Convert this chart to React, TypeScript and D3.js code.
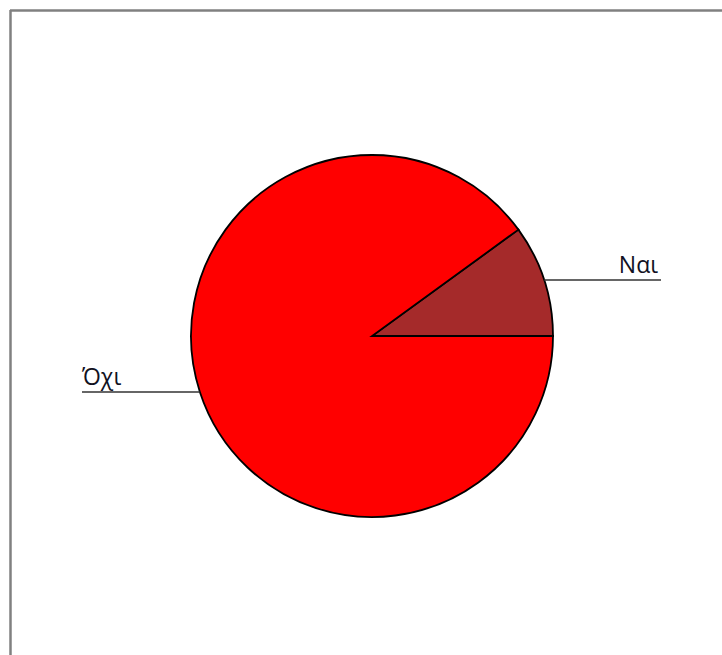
import React from "react";
import * as d3 from "d3";

const categories = ["Ναι", "Όχι"];
const values = [10, 90];
const colors = ["#a52a2a", "#ff0000"];

export default function App() {
  const W = 722, H = 655;
  const cx = 372, cy = 336, r = 181;
  const data = categories.map((c, i) => ({ c, v: values[i], col: colors[i] }));
  // start at east (90deg in d3 angle), going counter-clockwise
  const pie = d3.pie<any>().value((d) => d.v).sort(null)
    .startAngle(Math.PI / 2).endAngle(Math.PI / 2 - 2 * Math.PI);
  const arcs = pie(data);
  const arc = d3.arc<any>().innerRadius(0).outerRadius(r);
  return (
    <div style={{ position: "absolute", left: 0, top: 0 }}>
      <svg width={W} height={H} style={{ display: "block" }}>
        <rect x={0} y={0} width={W} height={H} fill="#fff" />
        <line x1={10.5} y1={10} x2={10.5} y2={H} stroke="#808080" strokeWidth={2.5} />
        <line x1={10} y1={10.5} x2={W} y2={10.5} stroke="#808080" strokeWidth={2.5} />
        <g transform={`translate(${cx},${cy})`}>
          {arcs.map((a, i) => (
            <path key={i} d={arc(a) as string} fill={a.data.col} stroke="#000" strokeWidth={1.8} />
          ))}
          {arcs.map((a, i) => {
            const mid = (a.startAngle + a.endAngle) / 2;
            const px = r * Math.sin(mid), py = -r * Math.cos(mid);
            const right = px > 0;
            const ex = right ? 289 : -290;
            return (
              <g key={"l" + i}>
                <line x1={px} y1={py} x2={ex} y2={py} stroke="#333" strokeWidth={1.5} />
                <text x={right ? ex - 3 : ex} y={py - 7} textAnchor={right ? "end" : "start"}
                  fontFamily="'Open Sans', sans-serif" fontSize={23} fill="#111122">{a.data.c}</text>
              </g>
            );
          })}
        </g>
      </svg>
    </div>
  );
}
